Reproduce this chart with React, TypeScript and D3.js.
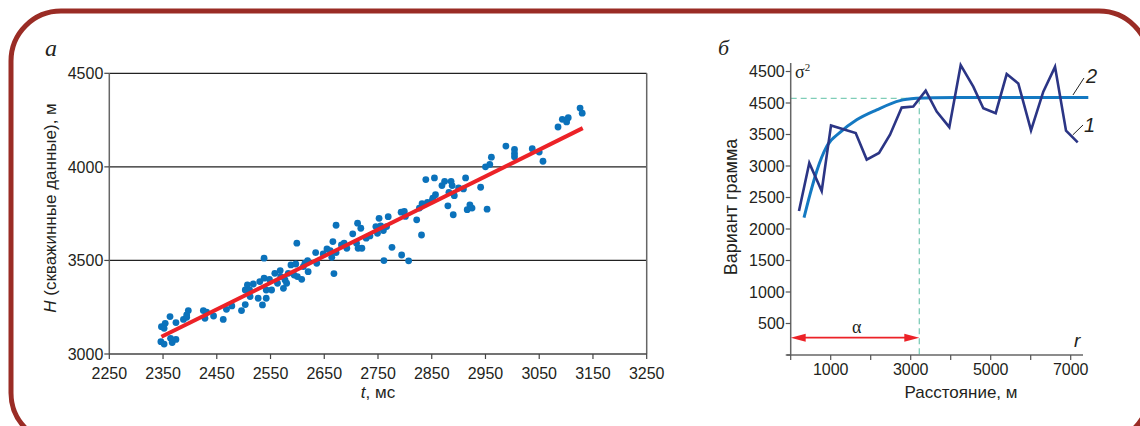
import React from "react";
import * as d3 from "d3";

const W = 1140;
const H = 426;

// panel a: well depth vs travel time
const tValues = [
  2346, 2352, 2347, 2354, 2352, 2363, 2364, 2367, 2374, 2374,
  2388, 2394, 2397, 2394, 2425, 2428, 2431, 2444, 2462, 2468,
  2478, 2496, 2503, 2503, 2507, 2511, 2512, 2518, 2527, 2530,
  2538, 2535, 2538, 2542, 2542, 2548, 2552, 2558, 2563, 2568,
  2569, 2574, 2577, 2580, 2583, 2588, 2594, 2599, 2597, 2600,
  2608, 2611, 2614, 2619, 2620, 2634, 2636, 2648, 2655, 2661,
  2664, 2666, 2668, 2672, 2672, 2682, 2687, 2692, 2703, 2712,
  2710, 2713, 2718, 2720, 2728, 2735, 2746, 2749, 2752, 2755,
  2760, 2761, 2766, 2769, 2776, 2793, 2799, 2801, 2794, 2807,
  2822, 2827, 2831, 2832, 2839, 2842, 2851, 2852, 2855, 2857,
  2869, 2874, 2880, 2882, 2886, 2888, 2890, 2892, 2900, 2909,
  2913, 2916, 2921, 2925, 2941, 2950, 2953, 2958, 2961, 2988,
  3004, 3004, 3004, 3037, 3050, 3057, 3085, 3093, 3101, 3104,
  3126, 3130,
];
const hValues = [
  3066, 3053, 3146, 3164, 3137, 3200, 3084, 3061, 3078, 3168,
  3185, 3196, 3232, 3209, 3232, 3191, 3223, 3203, 3185, 3239,
  3257, 3232, 3264, 3342, 3369, 3342, 3307, 3374, 3298, 3387,
  3512, 3262, 3405, 3342, 3298, 3399, 3342, 3431, 3378, 3446,
  3414, 3351, 3396, 3378, 3431, 3476, 3422, 3592, 3481, 3414,
  3399, 3467, 3485, 3499, 3440, 3542, 3485, 3535, 3561, 3552,
  3517, 3601, 3430, 3542, 3688, 3583, 3592, 3565, 3642, 3699,
  3592, 3565, 3672, 3565, 3619, 3631, 3681, 3645, 3725, 3684,
  3660, 3499, 3681, 3734, 3570, 3758, 3762, 3735, 3529, 3498,
  3717, 3780, 3636, 3803, 3932, 3810, 3821, 3833, 3941, 3851,
  3900, 3923, 3792, 3864, 3923, 3900, 3744, 3846, 3887, 3882,
  3941, 3771, 3797, 3780, 3891, 4000, 3774, 4013, 4052, 4111,
  4093, 4072, 4054, 4097, 4079, 4030, 4213, 4254, 4240, 4263,
  4314, 4287,
];
const trendT = [2347, 3131];
const trendH = [3092, 4207];
const xTicksA = [2250, 2350, 2450, 2550, 2650, 2750, 2850, 2950, 3050, 3150, 3250];
const yTicksA = [3000, 3500, 4000, 4500];

// panel б: variogram
const lagR = [
  207, 465, 775, 1008, 1625, 1900, 2208, 2483, 2775, 3065, 3375, 3650,
  3965, 4250, 4565, 4815, 5125, 5400, 5690, 6008, 6315, 6608, 6883, 7175,
];
const gammaExp = [
  2287, 3049, 2603, 3644, 3522, 3102, 3207, 3497, 3927, 3943, 4196, 3864,
  3617, 4600, 4259, 3916, 3838, 4459, 4311, 3565, 4180, 4574, 3560, 3375,
];
const modelR = [333, 483, 650, 900, 1233, 1650, 2150, 2733, 3150, 3565, 4500, 5500, 6500, 7440];
const gammaModel = [2181, 2550, 2918, 3312, 3533, 3733, 3891, 4038, 4074, 4085, 4088, 4088, 4088, 4088];
const xTicksB = [0, 1000, 2000, 3000, 4000, 5000, 6000, 7000];
const xLabelsB = ["", "1000", "", "3000", "", "5000", "", "7000"];
const yTicksB = [0, 500, 1000, 1500, 2000, 2500, 3000, 3500, 4000, 4500];
const yLabelsB = ["", "500", "1000", "1500", "2000", "2500", "3000", "3500", "4500", "4500"];
const rangeA = 3215;
const sill = 4075;

const sans = "'Liberation Sans', Arial, sans-serif";
const serif = "'Liberation Serif', 'DejaVu Serif', serif";
const ink = "#231f20";

export default function App() {
  const xA = d3.scaleLinear().domain([2250, 3250]).range([109.3, 646.7]);
  const yA = d3.scaleLinear().domain([3000, 4500]).range([354, 73.3]);

  const xB = d3.scaleLinear().domain([0, 7000]).range([790.7, 1070.7]);
  const yB = d3.scaleLinear().domain([0, 4500]).range([355, 71.5]);

  const expLine = d3
    .line<number>()
    .x((d, i) => xB(lagR[i]))
    .y((d) => yB(d));
  const modelLine = d3
    .line<number>()
    .x((d, i) => xB(modelR[i]))
    .y((d) => yB(d))
    .curve(d3.curveMonotoneX);

  const arrowY = yB(275);
  const ax0 = xB(0);
  const ax1 = xB(rangeA);

  return (
    <svg width={W} height={H} style={{ position: "absolute", left: 0, top: 0 }}>
      <rect x={11} y={11} width={1138} height={432} rx={50} fill="none" stroke="#9a2c25" strokeWidth={5} />

      {/* ---- panel a ---- */}
      <text x={45} y={56} fontFamily={serif} fontStyle="italic" fontSize={24} fill={ink}>a</text>
      {yTicksA.slice(1, 3).map((v) => (
        <line key={v} x1={xA(2250)} x2={xA(3250)} y1={yA(v)} y2={yA(v)} stroke="#222" strokeWidth={1.2} />
      ))}
      <line x1={xA(2250)} x2={xA(3250)} y1={yA(4500)} y2={yA(4500)} stroke="#222" strokeWidth={1.2} />
      <line x1={xA(3250)} x2={xA(3250)} y1={yA(4500)} y2={yA(3000)} stroke="#666" strokeWidth={1.5} />
      <line x1={xA(2250)} x2={xA(2250)} y1={yA(4500)} y2={yA(3000)} stroke="#666" strokeWidth={1.5} />
      <line x1={xA(2250)} x2={xA(3250)} y1={yA(3000)} y2={yA(3000)} stroke="#444" strokeWidth={1.5} />
      {yTicksA.map((v) => (
        <g key={v}>
          <line x1={xA(2250) - 5} x2={xA(2250)} y1={yA(v)} y2={yA(v)} stroke="#444" strokeWidth={1.2} />
          <text x={xA(2250) - 6} y={yA(v)} dy="0.36em" textAnchor="end" fontFamily={sans} fontSize={16} fill={ink}>{v}</text>
        </g>
      ))}
      {xTicksA.map((v) => (
        <g key={v}>
          <line x1={xA(v)} x2={xA(v)} y1={yA(3000)} y2={yA(3000) + 5} stroke="#444" strokeWidth={1.2} />
          <text x={xA(v)} y={379} textAnchor="middle" fontFamily={sans} fontSize={16} fill={ink}>{v}</text>
        </g>
      ))}
      {tValues.map((t, i) => (
        <circle key={i} cx={xA(t)} cy={yA(hValues[i])} r={3.4} fill="#0b72bb" />
      ))}
      <line x1={xA(trendT[0])} y1={yA(trendH[0])} x2={xA(trendT[1])} y2={yA(trendH[1])} stroke="#ec2227" strokeWidth={4} />
      <text x={378} y={398} textAnchor="middle" fontFamily={sans} fontSize={17} fill={ink}>
        <tspan fontStyle="italic">t</tspan>, мс
      </text>
      <text transform="translate(56,208) rotate(-90)" textAnchor="middle" fontFamily={sans} fontSize={17} fill={ink}>
        <tspan fontStyle="italic">H</tspan> (скважинные данные), м
      </text>

      {/* ---- panel б ---- */}
      <text x={718} y={55} fontFamily={serif} fontStyle="italic" fontSize={22} fill={ink}>б</text>
      <line x1={xB(0)} x2={xB(rangeA)} y1={yB(sill)} y2={yB(sill)} stroke="#7fcdb8" strokeWidth={1.3} strokeDasharray="6,4" />
      <line x1={xB(rangeA)} x2={xB(rangeA)} y1={yB(sill)} y2={yB(0)} stroke="#7fcdb8" strokeWidth={1.3} strokeDasharray="6,4" />
      <line x1={xB(0)} x2={xB(0)} y1={63} y2={yB(0)} stroke="#666" strokeWidth={1.5} />
      <line x1={xB(0) - 4} x2={1083} y1={yB(0)} y2={yB(0)} stroke="#666" strokeWidth={1.5} />
      {yTicksB.map((v, i) => (
        <g key={v}>
          <line x1={xB(0) - 5} x2={xB(0)} y1={yB(v)} y2={yB(v)} stroke="#555" strokeWidth={1.2} />
          <text x={xB(0) - 6} y={yB(v)} dy="0.36em" textAnchor="end" fontFamily={sans} fontSize={16} fill={ink}>{yLabelsB[i]}</text>
        </g>
      ))}
      {xTicksB.map((v, i) => (
        <g key={v}>
          <line x1={xB(v)} x2={xB(v)} y1={yB(0)} y2={yB(0) + 5} stroke="#555" strokeWidth={1.2} />
          <text x={xB(v)} y={375} textAnchor="middle" fontFamily={sans} fontSize={16} fill={ink}>{xLabelsB[i]}</text>
        </g>
      ))}
      <path d={modelLine(gammaModel) || ""} fill="none" stroke="#1479c2" strokeWidth={3} />
      <path d={expLine(gammaExp) || ""} fill="none" stroke="#2b3585" strokeWidth={2.6} strokeLinejoin="miter" />

      <line x1={ax0 + 12} x2={ax1 - 12} y1={arrowY} y2={arrowY} stroke="#ec2227" strokeWidth={1.8} />
      <polygon points={`${ax0},${arrowY} ${ax0 + 15},${arrowY - 4} ${ax0 + 15},${arrowY + 4}`} fill="#ec2227" />
      <polygon points={`${ax1},${arrowY} ${ax1 - 15},${arrowY - 4} ${ax1 - 15},${arrowY + 4}`} fill="#ec2227" />
      <text x={xB(1650)} y={arrowY - 5} textAnchor="middle" fontFamily={serif} fontSize={18} fill={ink}>α</text>
      <text x={1074} y={347} fontFamily={sans} fontStyle="italic" fontSize={19} fill={ink}>r</text>
      <text x={795} y={78} fontFamily={serif} fontSize={18} fill={ink}>
        σ<tspan fontSize={11} dy={-7}>2</tspan>
      </text>

      <line x1={xB(7057)} y1={yB(4127)} x2={xB(7332)} y2={yB(4397)} stroke="#222" strokeWidth={1} />
      <text x={1086} y={83} fontFamily={sans} fontStyle="italic" fontSize={20} fill={ink}>2</text>
      <line x1={xB(7050)} y1={yB(3492)} x2={xB(7308)} y2={yB(3651)} stroke="#222" strokeWidth={1} />
      <text x={1084} y={132} fontFamily={sans} fontStyle="italic" fontSize={20} fill={ink}>1</text>

      <text x={961} y={398} textAnchor="middle" fontFamily={sans} fontSize={17} fill={ink}>Расстояние, м</text>
      <text transform="translate(737,207) rotate(-90)" textAnchor="middle" fontFamily={sans} fontSize={18} fill={ink}>Вариант грамма</text>
    </svg>
  );
}
